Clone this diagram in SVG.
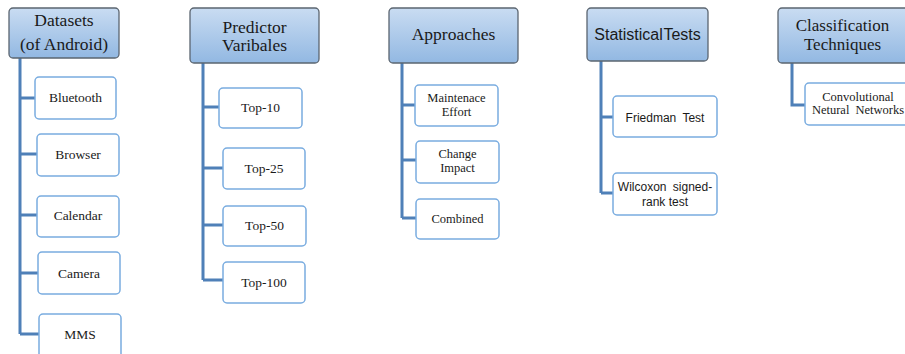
<svg xmlns="http://www.w3.org/2000/svg" width="905" height="354" viewBox="0 0 905 354">
  <defs>
    <linearGradient id="hdrFill" x1="0" y1="0" x2="0" y2="1">
      <stop offset="0" stop-color="#c9dcf2"/>
      <stop offset="1" stop-color="#92b8e2"/>
    </linearGradient>
  </defs>
  <style>
    .hdr { fill: url(#hdrFill); stroke: #5b6570; stroke-width: 1.3; }
    .leaf { fill: #ffffff; stroke: #79ace0; stroke-width: 1.5; }
    .link { fill: none; stroke: #4f80b8; stroke-width: 3; }
    .ht { font-family: "Liberation Serif", "Times New Roman", serif; font-size: 17.5px; fill: #1a1a1a; text-anchor: middle; }
    .hs { font-family: "Liberation Sans", Arial, sans-serif; font-size: 16px; fill: #1a1a1a; text-anchor: middle; }
    .lt { font-family: "Liberation Serif", "Times New Roman", serif; font-size: 13.5px; fill: #1a1a1a; text-anchor: middle; }
    .lt2 { font-family: "Liberation Serif", "Times New Roman", serif; font-size: 12.5px; fill: #1a1a1a; text-anchor: middle; }
    .ls { font-family: "Liberation Sans", Arial, sans-serif; font-size: 12px; fill: #1a1a1a; text-anchor: middle; }
  </style>

  <!-- tree connectors -->
  <g id="connectors">
    <path class="link" d="M20 58 V334 M20 98 H35 M20 154 H37 M20 215 H37 M20 273 H38 M20 334 H39"/>
    <path class="link" d="M203 63 V280 M203 107 H219 M203 168 H223 M203 225 H223 M203 280 H223"/>
    <path class="link" d="M402 63 V218 M402 105 H415 M402 160 H416 M402 218 H416"/>
    <path class="link" d="M601 61 V193 M601 117 H613 M601 193 H613"/>
    <path class="link" d="M792 63 V105 H805"/>
  </g>

  <!-- Datasets column -->
  <g id="datasets">
    <rect class="hdr" x="9" y="8" width="110" height="50" rx="4"/>
    <text class="ht" x="64" y="26">Datasets</text>
    <text class="ht" x="64" y="49.5">(of Android)</text>
  </g>
  <g id="bluetooth">
    <rect class="leaf" x="35" y="77" width="81" height="42" rx="4"/>
    <text class="lt" x="75.5" y="102">Bluetooth</text>
  </g>
  <g id="browser">
    <rect class="leaf" x="37" y="134" width="82" height="42" rx="4"/>
    <text class="lt" x="78" y="159">Browser</text>
  </g>
  <g id="calendar">
    <rect class="leaf" x="37" y="196" width="82" height="41" rx="4"/>
    <text class="lt" x="78" y="220">Calendar</text>
  </g>
  <g id="camera">
    <rect class="leaf" x="38" y="252" width="82" height="42" rx="4"/>
    <text class="lt" x="79" y="278">Camera</text>
  </g>
  <g id="mms">
    <rect class="leaf" x="39" y="314" width="82" height="48" rx="4"/>
    <text class="lt" x="80" y="339">MMS</text>
  </g>

  <!-- Predictor variables column -->
  <g id="predictors">
    <rect class="hdr" x="190" y="8" width="129" height="55" rx="4"/>
    <text class="ht" x="254.5" y="32.5">Predictor</text>
    <text class="ht" x="254.5" y="50.5">Varibales</text>
  </g>
  <g id="top10">
    <rect class="leaf" x="219" y="88" width="83" height="40" rx="4"/>
    <text class="lt" x="260.5" y="112">Top-10</text>
  </g>
  <g id="top25">
    <rect class="leaf" x="223" y="148" width="82" height="41" rx="4"/>
    <text class="lt" x="264" y="173">Top-25</text>
  </g>
  <g id="top50">
    <rect class="leaf" x="223" y="206" width="83" height="40" rx="4"/>
    <text class="lt" x="264.5" y="230">Top-50</text>
  </g>
  <g id="top100">
    <rect class="leaf" x="223" y="262" width="82" height="41" rx="4"/>
    <text class="lt" x="264" y="287">Top-100</text>
  </g>

  <!-- Approaches column -->
  <g id="approaches">
    <rect class="hdr" x="389" y="8" width="129" height="55" rx="4"/>
    <text class="ht" x="453.5" y="40">Approaches</text>
  </g>
  <g id="maintenance">
    <rect class="leaf" x="415" y="85" width="83" height="41" rx="4"/>
    <text class="lt2" x="456.5" y="102">Maintenace</text>
    <text class="lt2" x="456.5" y="115.5">Effort</text>
  </g>
  <g id="change-impact">
    <rect class="leaf" x="416" y="141" width="83" height="42" rx="4"/>
    <text class="lt2" x="457.5" y="158">Change</text>
    <text class="lt2" x="457.5" y="172">Impact</text>
  </g>
  <g id="combined">
    <rect class="leaf" x="416" y="199" width="83" height="40" rx="4"/>
    <text class="lt2" x="457.5" y="223">Combined</text>
  </g>

  <!-- Statistical tests column -->
  <g id="stat-tests">
    <rect class="hdr" x="587" y="8" width="121" height="53" rx="4"/>
    <text class="hs" x="647.5" y="39.5" style="word-spacing:-3.5px">Statistical Tests</text>
  </g>
  <g id="friedman">
    <rect class="leaf" x="613" y="96" width="104" height="41" rx="4"/>
    <text class="ls" x="665" y="122" style="word-spacing:3px">Friedman Test</text>
  </g>
  <g id="wilcoxon">
    <rect class="leaf" x="613" y="173" width="104" height="42" rx="4"/>
    <text class="ls" x="665" y="191" style="word-spacing:3px">Wilcoxon signed-</text>
    <text class="ls" x="665" y="206">rank test</text>
  </g>

  <!-- Classification techniques column -->
  <g id="classification">
    <rect class="hdr" x="778" y="8" width="132" height="55" rx="4"/>
    <text class="ht" x="842.5" y="31" style="font-size:17px">Classification</text>
    <text class="ht" x="842.5" y="50" style="font-size:17px">Techniques</text>
  </g>
  <g id="cnn">
    <rect class="leaf" x="805" y="83" width="110" height="42" rx="4"/>
    <text class="lt2" x="858" y="101">Convolutional</text>
    <text class="lt2" x="858" y="114" style="word-spacing:3px">Netural Networks</text>
  </g>
</svg>
